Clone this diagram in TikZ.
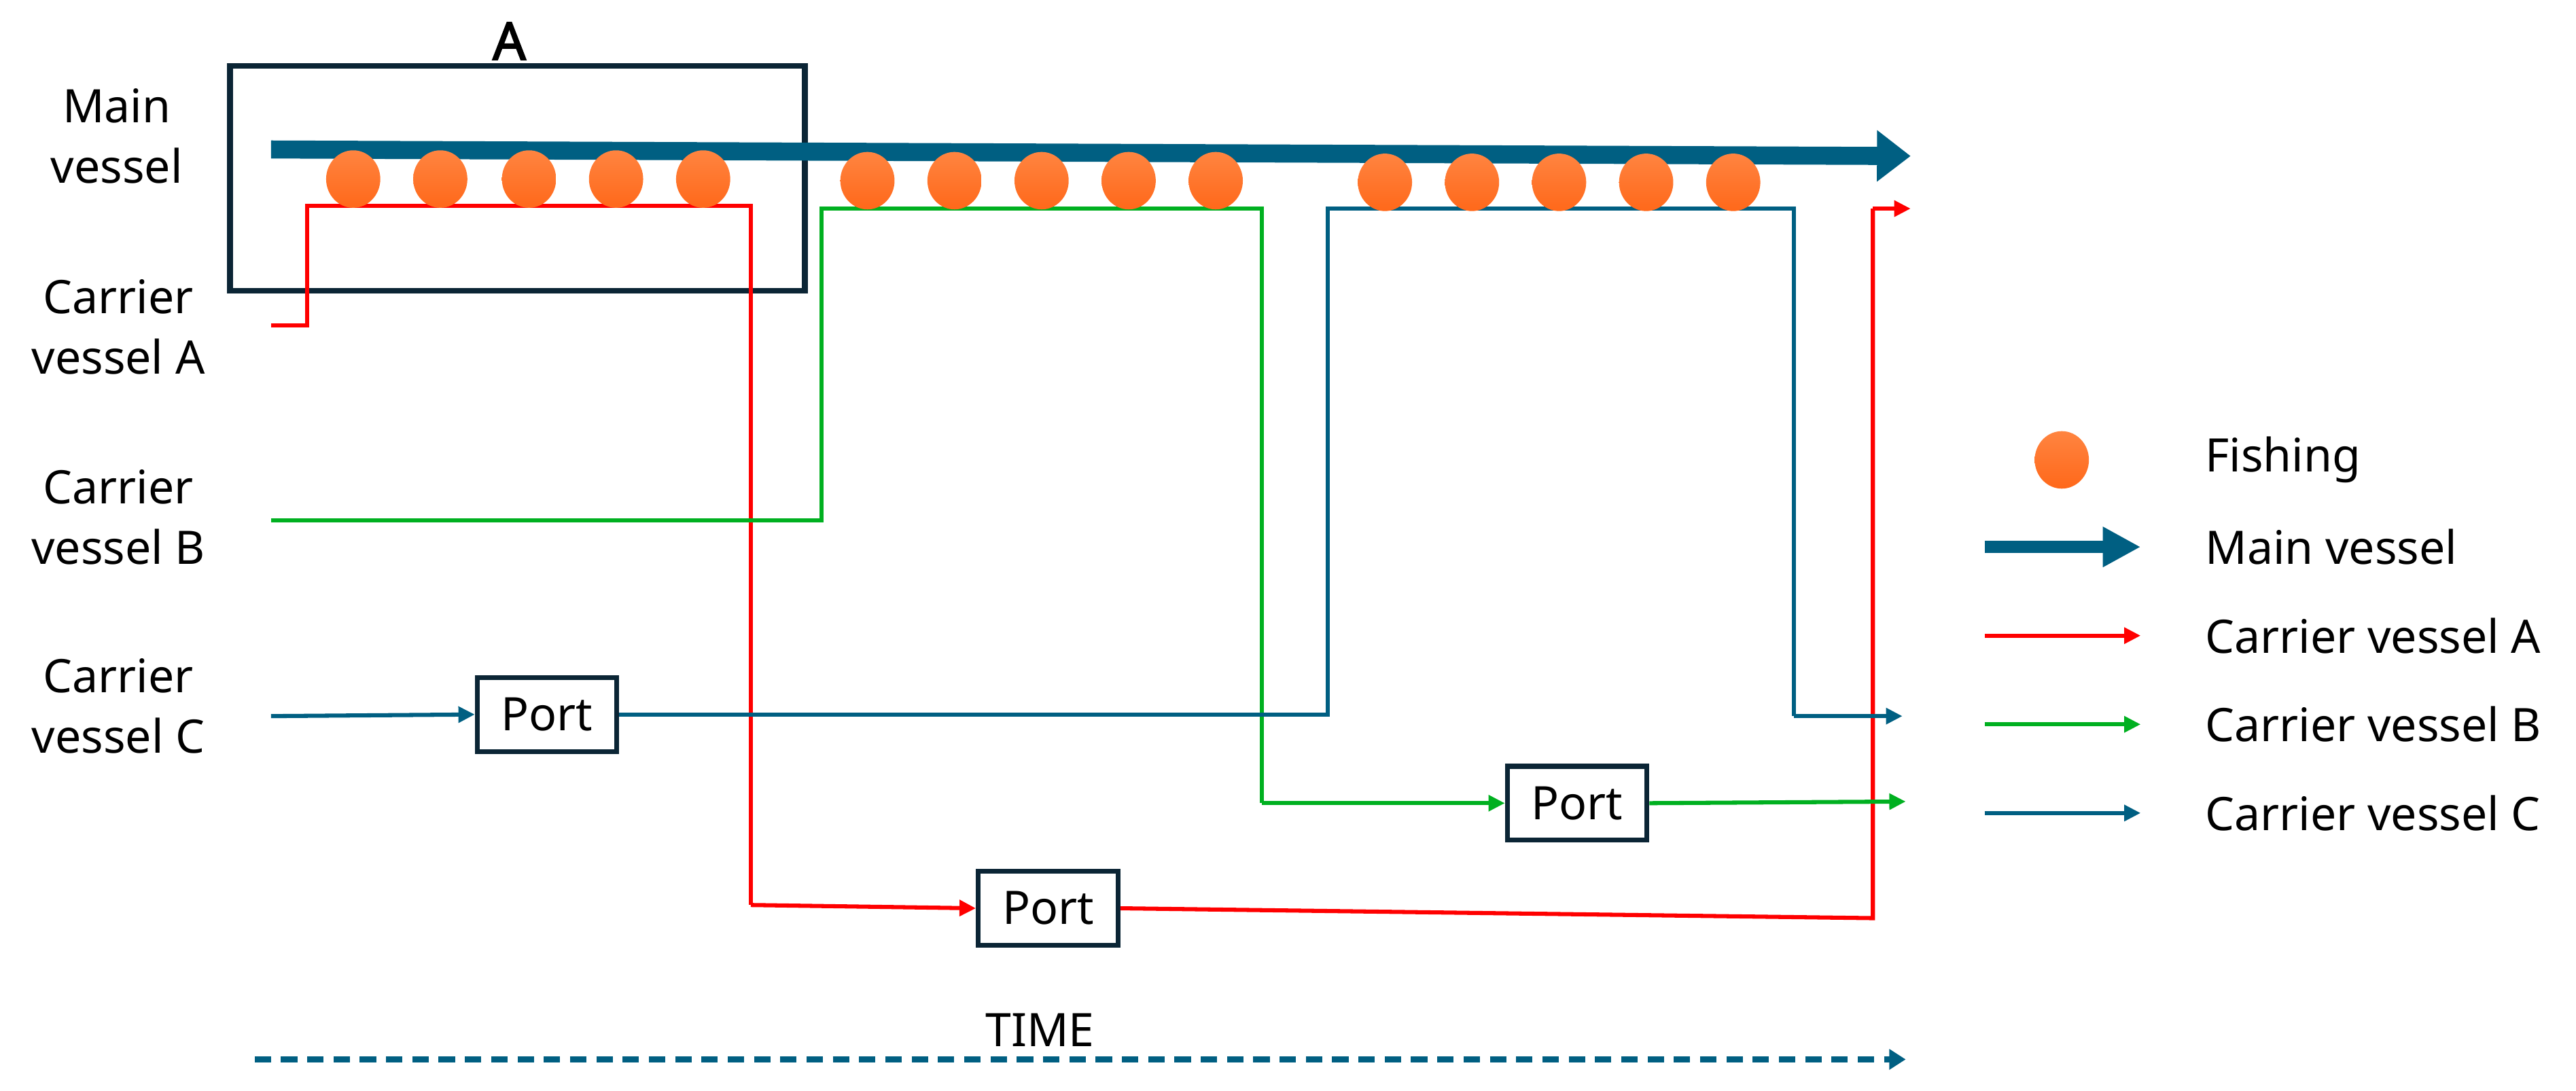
\documentclass[tikz,border=0pt]{standalone}
\usepackage{fontspec}
\setmainfont{Noto Sans}
\newfontfamily\boldlabel{Noto Sans}[FakeBold=2.5]
\usetikzlibrary{arrows.meta,shapes.geometric}

\definecolor{vesselteal}{RGB}{0,95,130}
\definecolor{carrierred}{RGB}{255,0,0}
\definecolor{carriergreen}{RGB}{0,176,32}
\definecolor{boxdark}{RGB}{11,37,53}
\definecolor{fishlight}{RGB}{255,132,64}
\definecolor{fishdark}{RGB}{255,104,26}

\tikzset{
  txt/.style={font=\fontsize{16}{21}\selectfont,inner sep=0pt,align=center},
  fishdot/.style={ellipse,minimum width=0.66cm,minimum height=0.70cm,inner sep=0pt,
    top color=fishlight,bottom color=fishdark,draw=none},
  portbox/.style={draw=boxdark,line width=0.06cm,fill=white,minimum width=1.7cm,
    minimum height=0.9cm,font=\fontsize{16}{21}\selectfont},
  track/.style={line width=0.05cm},
  smalltip/.style={-{Triangle[length=0.2cm,width=0.19cm]}},
}

\begin{document}
\begin{tikzpicture}[x=0.02cm,y=-0.02cm]

      \useasboundingbox (0,0) rectangle (1568,664);

      % labels on the left
      \begin{scope}[every node/.style={txt}]
        \node (lmain) at (71,83)  {Main\\vessel};
        \node (la)    at (72,199) {Carrier\\vessel A};
        \node (lb)    at (72,315) {Carrier\\vessel B};
        \node (lc)    at (72,430) {Carrier\\vessel C};
        \node[font=\boldlabel\fontsize{18}{21}\selectfont] (lA) at (310,25) {A};
        \node (ltime) at (633,627) {TIME};
      \end{scope}

      % box A
      \node[draw=boxdark,line width=0.07cm,minimum width=7cm,minimum height=2.74cm] (boxA) at (315,108.5) {};

      % ports
      \node[portbox] (portC) at (333,435) {Port};
      \node[portbox] (portA) at (638,553) {Port};
      \node[portbox] (portB) at (960,489) {Port};

      \coordinate (mvS) at (165,91);
      \coordinate (mvE) at (1163,95);
      \coordinate (aS)  at (165,198);
      \coordinate (aE)  at (1163,127);
      \coordinate (bS)  at (165,317);
      \coordinate (bE)  at (1160,488);
      \coordinate (cS)  at (165,436);
      \coordinate (cE)  at (1158,436);
      \coordinate (tS)  at (155,645);
      \coordinate (tE)  at (1160,645);

      % main vessel
      \draw[vesselteal,line width=0.22cm,-{Triangle[length=0.41cm,width=0.6cm]}] (mvS) -- (mvE);

      % carrier vessel A
      \draw[carrierred,track] (aS) -- (187,198) -- (187,125.5) -- (457,125.5) -- (457,551);
      \draw[carrierred,track,smalltip] (457,551) -- (portA.west);
      \draw[carrierred,track] (portA.east) -- (1140,559) -- (1140,127);
      \draw[carrierred,track,smalltip] (1140,127) -- (aE);

      % carrier vessel B
      \draw[carriergreen,track] (bS) -- (500,317) -- (500,127) -- (768,127) -- (768,489);
      \draw[carriergreen,track,smalltip] (768,489) -- (portB.west);
      \draw[carriergreen,track,smalltip] (portB.east) -- (bE);

      % carrier vessel C
      \draw[vesselteal,track,smalltip] (cS) -- (portC.west);
      \draw[vesselteal,track] (portC.east) -- (808,435) -- (808,127) -- (1092,127) -- (1092,436);
      \draw[vesselteal,track,smalltip] (1092,436) -- (cE);

      % time axis
      \draw[vesselteal,line width=0.07cm,dash pattern=on 0.2cm off 0.12cm,
        -{Triangle[length=0.2cm,width=0.24cm]}] (tS) -- (tE);

      % fishing
      \begin{scope}[every node/.style={fishdot}]
        \node (f1)  at (215,109) {};
        \node (f2)  at (268,109) {};
        \node (f3)  at (322,109) {};
        \node (f4)  at (375,109) {};
        \node (f5)  at (428,109) {};
        \node (f6)  at (528,110) {};
        \node (f7)  at (581,110) {};
        \node (f8)  at (634,110) {};
        \node (f9)  at (687,110) {};
        \node (f10) at (740,110) {};
        \node (f11) at (843,111) {};
        \node (f12) at (896,111) {};
        \node (f13) at (949,111) {};
        \node (f14) at (1002,111) {};
        \node (f15) at (1055,111) {};
      \end{scope}

      % legend
      \node[fishdot] (kfish) at (1255,280) {};
      \coordinate (kmainS) at (1208,333);
      \coordinate (kmainE) at (1303,333);
      \coordinate (kaS) at (1208,387);
      \coordinate (kaE) at (1303,387);
      \coordinate (kbS) at (1208,441);
      \coordinate (kbE) at (1303,441);
      \coordinate (kcS) at (1208,495);
      \coordinate (kcE) at (1303,495);
      \draw[vesselteal,line width=0.15cm,-{Triangle[length=0.46cm,width=0.46cm]}] (kmainS) -- (kmainE);
      \draw[carrierred,track,smalltip] (kaS) -- (kaE);
      \draw[carriergreen,track,smalltip] (kbS) -- (kbE);
      \draw[vesselteal,track,smalltip] (kcS) -- (kcE);

      \begin{scope}[every node/.style={txt,anchor=west}]
        \node (tfish) at (1342,280) {Fishing};
        \node (tmain) at (1342,333) {Main vessel};
        \node (ta)    at (1342,387) {Carrier vessel A};
        \node (tb)    at (1342,441) {Carrier vessel B};
        \node (tc)    at (1342,495) {Carrier vessel C};
      \end{scope}

    \end{tikzpicture}
\end{document}
